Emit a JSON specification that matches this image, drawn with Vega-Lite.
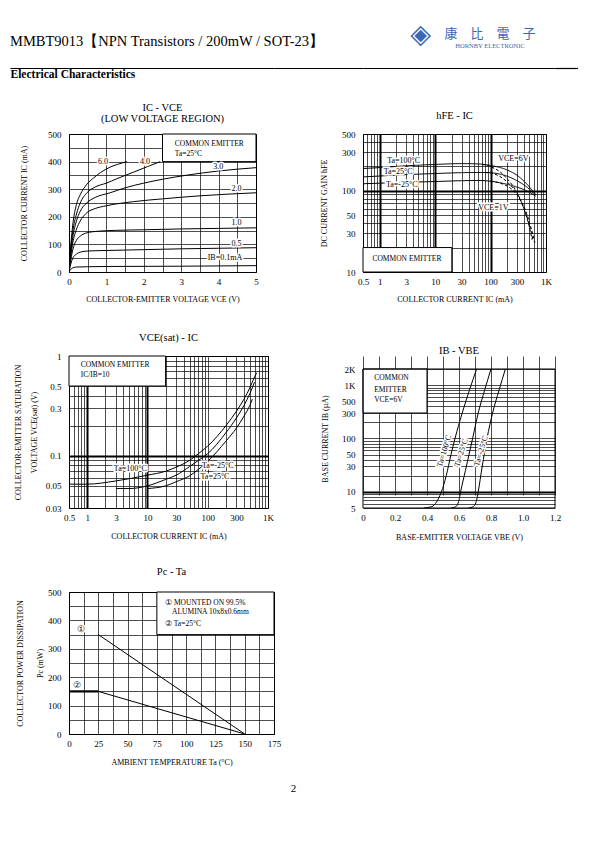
{
  "$schema": "https://vega.github.io/schema/vega-lite/v6.json",
  "background": "white",
  "padding": {"left": 10, "top": 21, "right": 0, "bottom": 0},
  "config": {
    "font": "Liberation Serif",
    "view": {"stroke": null},
    "axis": {"grid": true, "gridColor": "black", "gridOpacity": 1, "gridWidth": 0.7, "domain": false, "ticks": false,
      "labelFont": "Liberation Serif", "labelFontSize": 9, "labelColor": "black", "labelPadding": 5,
      "labelFlush": false, "labelOverlap": false, "labelBound": false,
      "titleFont": "Liberation Serif", "titleFontSize": 8, "titleFontWeight": "normal", "titleColor": "black"},
    "axisY": {"labelPadding": 8},
    "title": {"font": "Liberation Serif", "fontSize": 10.5, "fontWeight": "normal", "color": "black", "frame": "group"},
    "text": {"font": "Liberation Serif", "fontSize": 8, "color": "black"}
  },
  "datasets": {
    "c1_curves": [
      {"ib": "6.0", "vce": 0, "ic": 0}, {"ib": "6.0", "vce": 0.05, "ic": 100}, {"ib": "6.0", "vce": 0.1, "ic": 170}, {"ib": "6.0", "vce": 0.2, "ic": 245}, {"ib": "6.0", "vce": 0.3, "ic": 280}, {"ib": "6.0", "vce": 0.48, "ic": 318}, {"ib": "6.0", "vce": 0.65, "ic": 340}, {"ib": "6.0", "vce": 0.84, "ic": 360}, {"ib": "6.0", "vce": 1.1, "ic": 380}, {"ib": "6.0", "vce": 1.3, "ic": 390}, {"ib": "6.0", "vce": 1.55, "ic": 400},
      {"ib": "4.0", "vce": 0, "ic": 0}, {"ib": "4.0", "vce": 0.05, "ic": 85}, {"ib": "4.0", "vce": 0.1, "ic": 145}, {"ib": "4.0", "vce": 0.2, "ic": 210}, {"ib": "4.0", "vce": 0.3, "ic": 250}, {"ib": "4.0", "vce": 0.48, "ic": 287}, {"ib": "4.0", "vce": 0.7, "ic": 308}, {"ib": "4.0", "vce": 1.0, "ic": 322}, {"ib": "4.0", "vce": 1.28, "ic": 338}, {"ib": "4.0", "vce": 1.73, "ic": 362}, {"ib": "4.0", "vce": 2.1, "ic": 382}, {"ib": "4.0", "vce": 2.44, "ic": 400},
      {"ib": "3.0", "vce": 0, "ic": 0}, {"ib": "3.0", "vce": 0.05, "ic": 70}, {"ib": "3.0", "vce": 0.1, "ic": 125}, {"ib": "3.0", "vce": 0.2, "ic": 185}, {"ib": "3.0", "vce": 0.3, "ic": 220}, {"ib": "3.0", "vce": 0.48, "ic": 251}, {"ib": "3.0", "vce": 0.7, "ic": 270}, {"ib": "3.0", "vce": 1.1, "ic": 287}, {"ib": "3.0", "vce": 1.5, "ic": 305}, {"ib": "3.0", "vce": 2, "ic": 322}, {"ib": "3.0", "vce": 2.5, "ic": 336}, {"ib": "3.0", "vce": 3.16, "ic": 351}, {"ib": "3.0", "vce": 4, "ic": 366}, {"ib": "3.0", "vce": 5, "ic": 378},
      {"ib": "2.0", "vce": 0, "ic": 0}, {"ib": "2.0", "vce": 0.05, "ic": 60}, {"ib": "2.0", "vce": 0.1, "ic": 105}, {"ib": "2.0", "vce": 0.2, "ic": 155}, {"ib": "2.0", "vce": 0.3, "ic": 185}, {"ib": "2.0", "vce": 0.48, "ic": 215}, {"ib": "2.0", "vce": 0.7, "ic": 230}, {"ib": "2.0", "vce": 1, "ic": 240}, {"ib": "2.0", "vce": 1.73, "ic": 255}, {"ib": "2.0", "vce": 2.5, "ic": 265}, {"ib": "2.0", "vce": 3.5, "ic": 276}, {"ib": "2.0", "vce": 5, "ic": 287},
      {"ib": "1.0", "vce": 0, "ic": 0}, {"ib": "1.0", "vce": 0.05, "ic": 45}, {"ib": "1.0", "vce": 0.1, "ic": 80}, {"ib": "1.0", "vce": 0.2, "ic": 115}, {"ib": "1.0", "vce": 0.3, "ic": 130}, {"ib": "1.0", "vce": 0.48, "ic": 142}, {"ib": "1.0", "vce": 0.8, "ic": 148}, {"ib": "1.0", "vce": 1.28, "ic": 151}, {"ib": "1.0", "vce": 2, "ic": 153}, {"ib": "1.0", "vce": 3, "ic": 156}, {"ib": "1.0", "vce": 4, "ic": 158}, {"ib": "1.0", "vce": 5, "ic": 160},
      {"ib": "0.5", "vce": 0, "ic": 0}, {"ib": "0.5", "vce": 0.05, "ic": 30}, {"ib": "0.5", "vce": 0.1, "ic": 50}, {"ib": "0.5", "vce": 0.2, "ic": 65}, {"ib": "0.5", "vce": 0.3, "ic": 72}, {"ib": "0.5", "vce": 0.5, "ic": 76}, {"ib": "0.5", "vce": 1, "ic": 78}, {"ib": "0.5", "vce": 2, "ic": 81}, {"ib": "0.5", "vce": 3, "ic": 84}, {"ib": "0.5", "vce": 4, "ic": 86}, {"ib": "0.5", "vce": 5, "ic": 88},
      {"ib": "0.1", "vce": 0, "ic": 0}, {"ib": "0.1", "vce": 0.05, "ic": 10}, {"ib": "0.1", "vce": 0.1, "ic": 15}, {"ib": "0.1", "vce": 0.2, "ic": 18}, {"ib": "0.1", "vce": 0.5, "ic": 19}, {"ib": "0.1", "vce": 1, "ic": 20}, {"ib": "0.1", "vce": 3, "ic": 21}, {"ib": "0.1", "vce": 5, "ic": 23}
    ],
    "c1_box": [{"vce": 2.5, "vce2": 5, "ic": 400, "ic2": 500}],
    "c1_labels": [
      {"vce": 0.91, "ic": 400, "text": "6.0"}, {"vce": 2.03, "ic": 400, "text": "4.0"}, {"vce": 3.99, "ic": 382, "text": "3.0"},
      {"vce": 4.48, "ic": 300, "text": "2.0"}, {"vce": 4.48, "ic": 177, "text": "1.0"}, {"vce": 4.48, "ic": 100, "text": "0.5"},
      {"vce": 4.17, "ic": 50, "text": "IB=0.1mA"}
    ],
    "c1_boxtext": [{"vce": 2.83, "ic": 464, "text": "COMMON EMITTER"}, {"vce": 2.83, "ic": 428, "text": "Ta=25°C"}],
    "c2_curves": [
      {"c": "100-6V", "vce": "6V", "icm": 0.5, "hfe": 188}, {"c": "100-6V", "vce": "6V", "icm": 1, "hfe": 193}, {"c": "100-6V", "vce": "6V", "icm": 3, "hfe": 203}, {"c": "100-6V", "vce": "6V", "icm": 10, "hfe": 211}, {"c": "100-6V", "vce": "6V", "icm": 30, "hfe": 216}, {"c": "100-6V", "vce": "6V", "icm": 60, "hfe": 214}, {"c": "100-6V", "vce": "6V", "icm": 100, "hfe": 205}, {"c": "100-6V", "vce": "6V", "icm": 200, "hfe": 180}, {"c": "100-6V", "vce": "6V", "icm": 300, "hfe": 155}, {"c": "100-6V", "vce": "6V", "icm": 500, "hfe": 112}, {"c": "100-6V", "vce": "6V", "icm": 650, "hfe": 90},
      {"c": "25-6V", "vce": "6V", "icm": 0.5, "hfe": 148}, {"c": "25-6V", "vce": "6V", "icm": 1, "hfe": 152}, {"c": "25-6V", "vce": "6V", "icm": 3, "hfe": 158}, {"c": "25-6V", "vce": "6V", "icm": 10, "hfe": 163}, {"c": "25-6V", "vce": "6V", "icm": 30, "hfe": 167}, {"c": "25-6V", "vce": "6V", "icm": 80, "hfe": 168}, {"c": "25-6V", "vce": "6V", "icm": 150, "hfe": 160}, {"c": "25-6V", "vce": "6V", "icm": 300, "hfe": 133}, {"c": "25-6V", "vce": "6V", "icm": 500, "hfe": 105}, {"c": "25-6V", "vce": "6V", "icm": 650, "hfe": 88},
      {"c": "-25-6V", "vce": "6V", "icm": 0.5, "hfe": 122}, {"c": "-25-6V", "vce": "6V", "icm": 1, "hfe": 124}, {"c": "-25-6V", "vce": "6V", "icm": 3, "hfe": 127}, {"c": "-25-6V", "vce": "6V", "icm": 10, "hfe": 130}, {"c": "-25-6V", "vce": "6V", "icm": 30, "hfe": 133}, {"c": "-25-6V", "vce": "6V", "icm": 60, "hfe": 134}, {"c": "-25-6V", "vce": "6V", "icm": 100, "hfe": 131}, {"c": "-25-6V", "vce": "6V", "icm": 200, "hfe": 120}, {"c": "-25-6V", "vce": "6V", "icm": 300, "hfe": 111}, {"c": "-25-6V", "vce": "6V", "icm": 500, "hfe": 96}, {"c": "-25-6V", "vce": "6V", "icm": 650, "hfe": 86},
      {"c": "100-1V", "vce": "1V", "icm": 70, "hfe": 212}, {"c": "100-1V", "vce": "1V", "icm": 100, "hfe": 198}, {"c": "100-1V", "vce": "1V", "icm": 150, "hfe": 170}, {"c": "100-1V", "vce": "1V", "icm": 200, "hfe": 140}, {"c": "100-1V", "vce": "1V", "icm": 300, "hfe": 95}, {"c": "100-1V", "vce": "1V", "icm": 400, "hfe": 60}, {"c": "100-1V", "vce": "1V", "icm": 500, "hfe": 36}, {"c": "100-1V", "vce": "1V", "icm": 560, "hfe": 25},
      {"c": "25-1V", "vce": "1V", "icm": 80, "hfe": 168}, {"c": "25-1V", "vce": "1V", "icm": 120, "hfe": 160}, {"c": "25-1V", "vce": "1V", "icm": 200, "hfe": 128}, {"c": "25-1V", "vce": "1V", "icm": 300, "hfe": 92}, {"c": "25-1V", "vce": "1V", "icm": 400, "hfe": 60}, {"c": "25-1V", "vce": "1V", "icm": 500, "hfe": 38}, {"c": "25-1V", "vce": "1V", "icm": 590, "hfe": 24},
      {"c": "-25-1V", "vce": "1V", "icm": 100, "hfe": 131}, {"c": "-25-1V", "vce": "1V", "icm": 150, "hfe": 124}, {"c": "-25-1V", "vce": "1V", "icm": 250, "hfe": 102}, {"c": "-25-1V", "vce": "1V", "icm": 350, "hfe": 76}, {"c": "-25-1V", "vce": "1V", "icm": 450, "hfe": 52}, {"c": "-25-1V", "vce": "1V", "icm": 550, "hfe": 33}, {"c": "-25-1V", "vce": "1V", "icm": 630, "hfe": 23}
    ],
    "c2_box": [{"icm": 0.5, "icm2": 20, "hfe": 10, "hfe2": 20}],
    "c2_labels": [
      {"icm": 2.7, "hfe": 234, "text": "Ta=100°C"}, {"icm": 2.15, "hfe": 168, "text": "Ta=25°C"}, {"icm": 2.5, "hfe": 118, "text": "Ta=-25°C"},
      {"icm": 258, "hfe": 245, "text": "VCE=6V"}, {"icm": 112, "hfe": 62, "text": "VCE=1V"}
    ],
    "c2_boxtext": [{"icm": 3.1, "hfe": 14.5, "text": "COMMON EMITTER"}],
    "c3_curves": [
      {"ta": "100", "icm": 0.5, "vsat": 0.052}, {"ta": "100", "icm": 1, "vsat": 0.052}, {"ta": "100", "icm": 3, "vsat": 0.056}, {"ta": "100", "icm": 10, "vsat": 0.064}, {"ta": "100", "icm": 20, "vsat": 0.07}, {"ta": "100", "icm": 30, "vsat": 0.077}, {"ta": "100", "icm": 50, "vsat": 0.09}, {"ta": "100", "icm": 70, "vsat": 0.105}, {"ta": "100", "icm": 100, "vsat": 0.125}, {"ta": "100", "icm": 200, "vsat": 0.2}, {"ta": "100", "icm": 300, "vsat": 0.28}, {"ta": "100", "icm": 400, "vsat": 0.37}, {"ta": "100", "icm": 500, "vsat": 0.48}, {"ta": "100", "icm": 600, "vsat": 0.62}, {"ta": "100", "icm": 650, "vsat": 0.68},
      {"ta": "-25", "icm": 3, "vsat": 0.047}, {"ta": "-25", "icm": 5, "vsat": 0.047}, {"ta": "-25", "icm": 10, "vsat": 0.05}, {"ta": "-25", "icm": 20, "vsat": 0.058}, {"ta": "-25", "icm": 30, "vsat": 0.064}, {"ta": "-25", "icm": 50, "vsat": 0.078}, {"ta": "-25", "icm": 70, "vsat": 0.09}, {"ta": "-25", "icm": 100, "vsat": 0.105}, {"ta": "-25", "icm": 200, "vsat": 0.17}, {"ta": "-25", "icm": 300, "vsat": 0.24}, {"ta": "-25", "icm": 400, "vsat": 0.32}, {"ta": "-25", "icm": 500, "vsat": 0.42}, {"ta": "-25", "icm": 600, "vsat": 0.55},
      {"ta": "25", "icm": 10, "vsat": 0.047}, {"ta": "25", "icm": 20, "vsat": 0.05}, {"ta": "25", "icm": 30, "vsat": 0.055}, {"ta": "25", "icm": 50, "vsat": 0.063}, {"ta": "25", "icm": 70, "vsat": 0.073}, {"ta": "25", "icm": 100, "vsat": 0.088}, {"ta": "25", "icm": 200, "vsat": 0.14}, {"ta": "25", "icm": 300, "vsat": 0.19}, {"ta": "25", "icm": 400, "vsat": 0.25}, {"ta": "25", "icm": 500, "vsat": 0.32}, {"ta": "25", "icm": 550, "vsat": 0.37}
    ],
    "c3_box": [{"icm": 0.5, "icm2": 20, "vsat": 0.5, "vsat2": 1}],
    "c3_boxtext": [{"icm": 0.78, "vsat": 0.81, "text": "COMMON EMITTER"}, {"icm": 0.78, "vsat": 0.64, "text": "IC/IB=10"}],
    "c3_labels": [{"icm": 5.2, "vsat": 0.0746, "text": "Ta=100°C"}, {"icm": 147, "vsat": 0.079, "text": "Ta=-25°C"}, {"icm": 132, "vsat": 0.061, "text": "Ta=25°C"}],
    "c4_curves": [
      {"ta": "100", "vbe": 0.38, "iba": 5}, {"ta": "100", "vbe": 0.43, "iba": 5.3}, {"ta": "100", "vbe": 0.46, "iba": 6.5}, {"ta": "100", "vbe": 0.48, "iba": 8.5}, {"ta": "100", "vbe": 0.49, "iba": 10}, {"ta": "100", "vbe": 0.52, "iba": 20}, {"ta": "100", "vbe": 0.55, "iba": 50}, {"ta": "100", "vbe": 0.575, "iba": 100}, {"ta": "100", "vbe": 0.62, "iba": 300}, {"ta": "100", "vbe": 0.665, "iba": 800}, {"ta": "100", "vbe": 0.71, "iba": 2000},
      {"ta": "25", "vbe": 0.55, "iba": 5}, {"ta": "25", "vbe": 0.58, "iba": 5.3}, {"ta": "25", "vbe": 0.6, "iba": 7}, {"ta": "25", "vbe": 0.61, "iba": 10}, {"ta": "25", "vbe": 0.64, "iba": 25}, {"ta": "25", "vbe": 0.685, "iba": 100}, {"ta": "25", "vbe": 0.72, "iba": 300}, {"ta": "25", "vbe": 0.76, "iba": 800}, {"ta": "25", "vbe": 0.8, "iba": 2000},
      {"ta": "-25", "vbe": 0.66, "iba": 5}, {"ta": "-25", "vbe": 0.69, "iba": 5.3}, {"ta": "-25", "vbe": 0.71, "iba": 7}, {"ta": "-25", "vbe": 0.72, "iba": 10}, {"ta": "-25", "vbe": 0.745, "iba": 30}, {"ta": "-25", "vbe": 0.775, "iba": 100}, {"ta": "-25", "vbe": 0.81, "iba": 300}, {"ta": "-25", "vbe": 0.85, "iba": 800}, {"ta": "-25", "vbe": 0.89, "iba": 2000}
    ],
    "c4_box": [{"vbe": 0, "vbe2": 0.4, "iba": 300, "iba2": 2000}],
    "c4_frame": [{"vbe": 0, "vbe2": 1.2, "iba": 5, "iba2": 2000}],
    "c4_boxtext": [{"vbe": 0.07, "iba": 1357, "text": "COMMON"}, {"vbe": 0.07, "iba": 820, "text": "EMITTER"}, {"vbe": 0.07, "iba": 532, "text": "VCE=6V"}],
    "c4_labels": [{"vbe": 0.51, "iba": 58, "text": "Ta=100°C"}, {"vbe": 0.616, "iba": 54, "text": "Ta=25°C"}, {"vbe": 0.74, "iba": 58, "text": "Ta=-25°C"}],
    "c5_curves": [
      {"s": "mounted", "tamb": 25, "pc": 350}, {"s": "mounted", "tamb": 150, "pc": 0},
      {"s": "free", "tamb": 25, "pc": 150}, {"s": "free", "tamb": 150, "pc": 0},
      {"s": "flat", "tamb": 0, "pc": 150}, {"s": "flat", "tamb": 25, "pc": 150}
    ],
    "c5_box": [{"tamb": 75, "tamb2": 175, "pc": 350, "pc2": 500}],
    "c5_boxtext": [{"tamb": 82, "pc": 462, "text": "① MOUNTED ON 99.5%"}, {"tamb": 88, "pc": 430, "text": "ALUMINA 10x8x0.6mm"}, {"tamb": 82, "pc": 386, "text": "② Ta=25°C"}],
    "c5_marks": [{"tamb": 10, "pc": 368, "text": "①"}, {"tamb": 7, "pc": 173, "text": "②"}]
  },
  "columns": 5,
  "align": "each",
  "bounds": "flush",
  "spacing": {"row": 84, "column": 0},
  "concat": [
    {
      "width": 59, "height": 1, "data": {"values": []}, "mark": "point",
      "encoding": {"x": {"field": "v", "type": "quantitative", "scale": {"domain": [0, 1]},
        "axis": {"orient": "bottom", "offset": 18, "grid": false, "labels": false, "ticks": false, "domain": true, "domainColor": "black", "domainWidth": 1.2,
          "title": "Electrical Characteristics", "titleAnchor": "start", "titleAlign": "left", "titleFontSize": 11.5, "titleFontWeight": "bold", "titlePadding": 0}}},
      "title": {"text": "MMBT9013【NPN Transistors / 200mW / SOT-23】", "anchor": "start", "fontSize": 14.5, "offset": 0}
    },
    {
      "width": 205, "height": 1, "data": {"values": []}, "mark": "point",
      "encoding": {"x": {"field": "v", "type": "quantitative", "scale": {"domain": [0, 1]},
        "axis": {"orient": "bottom", "offset": 18, "grid": false, "labels": false, "ticks": false, "domain": true, "domainColor": "black", "domainWidth": 1.2, "title": null}}}
    },
    {
      "width": 89, "height": 1, "data": {"values": []}, "mark": "point",
      "encoding": {"x": {"field": "v", "type": "quantitative", "scale": {"domain": [0, 1]},
        "axis": {"orient": "bottom", "offset": 18, "grid": false, "labels": false, "ticks": false, "domain": true, "domainColor": "black", "domainWidth": 1.2, "title": null}}},
      "title": {"text": "◈", "anchor": "end", "dx": 68, "font": "DejaVu Sans", "fontSize": 27, "color": "#3a68b4", "offset": 0}
    },
    {
      "width": 192, "height": 1, "data": {"values": []}, "mark": "point",
      "encoding": {"x": {"field": "v", "type": "quantitative", "scale": {"domain": [0, 1]},
        "axis": {"orient": "bottom", "offset": 18, "grid": false, "labels": false, "ticks": false, "domain": true, "domainColor": "black", "domainWidth": 1.2, "title": null}}},
      "title": {"text": "康　比　電　子", "subtitle": "HORNBY ELECTRONIC", "anchor": "middle", "dx": 31, "font": "Noto Sans CJK TC", "fontSize": 13, "color": "#3a68b4",
        "subtitleFont": "Liberation Serif", "subtitleFontSize": 6.5, "subtitleColor": "#3a68b4", "subtitlePadding": 2, "offset": 0}
    },
    {
      "width": 23, "height": 1, "data": {"values": []}, "mark": "point",
      "encoding": {"x": {"field": "v", "type": "quantitative", "scale": {"domain": [0, 1]},
        "axis": {"orient": "bottom", "offset": 18, "grid": false, "labels": false, "ticks": false, "domain": true, "domainColor": "black", "domainWidth": 1.2, "title": null}}}
    },

    {"width": 1, "height": 1, "data": {"values": []}, "mark": "point"},
    {
      "width": 187, "height": 138,
      "view": {"stroke": "black", "strokeWidth": 1},
      "title": {"text": ["IC  -  VCE", "(LOW VOLTAGE REGION)"], "offset": 6, "lineHeight": 11},
      "encoding": {
        "x": {"field": "vce", "type": "quantitative", "scale": {"domain": [0, 5], "nice": false, "zero": false},
          "axis": {"values": [0, 0.5, 1, 1.5, 2, 2.5, 3, 3.5, 4, 4.5, 5], "labelExpr": "datum.value % 1 == 0 ? '' + datum.value : ''",
            "title": "COLLECTOR-EMITTER VOLTAGE VCE (V)", "titlePadding": 9}},
        "y": {"field": "ic", "type": "quantitative", "scale": {"domain": [0, 500], "nice": false},
          "axis": {"values": [0, 50, 100, 150, 200, 250, 300, 350, 400, 450, 500], "labelExpr": "datum.value % 100 == 0 ? '' + datum.value : ''",
            "title": "COLLECTOR CURRENT IC (mA)", "titlePadding": 19}}
      },
      "layer": [
        {"data": {"name": "c1_box"}, "mark": {"type": "rect", "fill": "white", "stroke": "black", "strokeWidth": 1}, "encoding": {"x2": {"field": "vce2"}, "y2": {"field": "ic2"}}},
        {"data": {"name": "c1_curves"}, "mark": {"type": "line", "interpolate": "monotone", "color": "black", "strokeWidth": 1, "clip": true}, "encoding": {"detail": {"field": "ib"}}},
        {"data": {"name": "c1_labels"}, "mark": {"type": "text", "fill": "white", "stroke": "white", "strokeWidth": 3}, "encoding": {"text": {"field": "text"}}},
        {"data": {"name": "c1_labels"}, "mark": {"type": "text", "fill": "black"}, "encoding": {"text": {"field": "text"}}},
        {"data": {"name": "c1_boxtext"}, "mark": {"type": "text", "align": "left", "fontSize": 7.5, "fill": "black"}, "encoding": {"text": {"field": "text"}}}
      ]
    },
    {"width": 1, "height": 1, "data": {"values": []}, "mark": "point"},
    {
      "width": 183, "height": 138,
      "view": {"stroke": "black", "strokeWidth": 1},
      "title": {"text": "hFE  -  IC", "offset": 9},
      "encoding": {
        "x": {"field": "icm", "type": "quantitative", "scale": {"type": "log", "domain": [0.5, 1000], "nice": false},
          "axis": {"values": [0.5, 0.6, 0.7, 0.8, 0.9, 1, 2, 3, 4, 5, 6, 7, 8, 9, 10, 20, 30, 40, 50, 60, 70, 80, 90, 100, 200, 300, 400, 500, 600, 700, 800, 900, 1000],
            "labelExpr": "datum.value == 1000 ? '1K' : (indexof([0.5, 1, 3, 10, 30, 100, 300], datum.value) >= 0 ? '' + datum.value : '')",
            "gridWidth": {"condition": {"test": "datum.value == 1 || datum.value == 10 || datum.value == 100", "value": 2}, "value": 0.7},
            "title": "COLLECTOR CURRENT IC (mA)", "titlePadding": 9}},
        "y": {"field": "hfe", "type": "quantitative", "scale": {"type": "log", "domain": [10, 500], "nice": false},
          "axis": {"values": [10, 20, 30, 40, 50, 60, 70, 80, 90, 100, 200, 300, 400, 500],
            "labelExpr": "indexof([10, 30, 50, 100, 300, 500], datum.value) >= 0 ? '' + datum.value : ''",
            "gridWidth": {"condition": {"test": "datum.value == 100", "value": 2}, "value": 0.7},
            "title": "DC CURRENT GAIN hFE", "titlePadding": 13}}
      },
      "layer": [
        {"data": {"name": "c2_box"}, "mark": {"type": "rect", "fill": "white", "stroke": "black", "strokeWidth": 1}, "encoding": {"x2": {"field": "icm2"}, "y2": {"field": "hfe2"}}},
        {"data": {"name": "c2_curves"}, "mark": {"type": "line", "interpolate": "monotone", "color": "black", "strokeWidth": 1, "clip": true},
          "encoding": {"detail": {"field": "c"}, "strokeDash": {"field": "vce", "type": "nominal", "scale": {"domain": ["6V", "1V"], "range": [[1, 0], [3, 2]]}, "legend": null}}},
        {"data": {"name": "c2_labels"}, "mark": {"type": "text", "fill": "white", "stroke": "white", "strokeWidth": 3}, "encoding": {"text": {"field": "text"}}},
        {"data": {"name": "c2_labels"}, "mark": {"type": "text", "fill": "black"}, "encoding": {"text": {"field": "text"}}},
        {"data": {"name": "c2_boxtext"}, "mark": {"type": "text", "fontSize": 7.5, "fill": "black"}, "encoding": {"text": {"field": "text"}}}
      ]
    },
    {"width": 1, "height": 1, "data": {"values": []}, "mark": "point"},

    {"width": 1, "height": 1, "data": {"values": []}, "mark": "point"},
    {
      "width": 199, "height": 152,
      "view": {"stroke": "black", "strokeWidth": 1},
      "title": {"text": "VCE(sat)  -  IC", "offset": 9},
      "encoding": {
        "x": {"field": "icm", "type": "quantitative", "scale": {"type": "log", "domain": [0.5, 1000], "nice": false},
          "axis": {"values": [0.5, 0.6, 0.7, 0.8, 0.9, 1, 2, 3, 4, 5, 6, 7, 8, 9, 10, 20, 30, 40, 50, 60, 70, 80, 90, 100, 200, 300, 400, 500, 600, 700, 800, 900, 1000],
            "labelExpr": "datum.value == 1000 ? '1K' : (indexof([0.5, 1, 3, 10, 30, 100, 300], datum.value) >= 0 ? '' + datum.value : '')",
            "gridWidth": {"condition": {"test": "datum.value == 1 || datum.value == 10", "value": 2}, "value": 0.7},
            "title": "COLLECTOR CURRENT IC (mA)", "titlePadding": 10}},
        "y": {"field": "vsat", "type": "quantitative", "scale": {"type": "log", "domain": [0.03, 1], "nice": false},
          "axis": {"values": [0.03, 0.04, 0.05, 0.06, 0.07, 0.08, 0.09, 0.1, 0.2, 0.3, 0.4, 0.5, 0.6, 0.7, 0.8, 0.9, 1],
            "labelExpr": "indexof([0.03, 0.05, 0.1, 0.3, 0.5, 1], datum.value) >= 0 ? '' + datum.value : ''",
            "gridWidth": {"condition": {"test": "datum.value == 0.1", "value": 2}, "value": 0.7},
            "title": ["COLLECTOR-EMITTER SATURATION", "VOLTAGE VCE(sat)  (V)"], "titleLineHeight": 16, "titlePadding": 7}}
      },
      "layer": [
        {"data": {"name": "c3_box"}, "mark": {"type": "rect", "fill": "white", "stroke": "black", "strokeWidth": 1}, "encoding": {"x2": {"field": "icm2"}, "y2": {"field": "vsat2"}}},
        {"data": {"name": "c3_curves"}, "mark": {"type": "line", "interpolate": "monotone", "color": "black", "strokeWidth": 1, "clip": true}, "encoding": {"detail": {"field": "ta"}}},
        {"data": {"name": "c3_labels"}, "mark": {"type": "text", "fill": "white", "stroke": "white", "strokeWidth": 3}, "encoding": {"text": {"field": "text"}}},
        {"data": {"name": "c3_labels"}, "mark": {"type": "text", "fill": "black"}, "encoding": {"text": {"field": "text"}}},
        {"data": {"name": "c3_boxtext"}, "mark": {"type": "text", "align": "left", "fontSize": 7.5, "fill": "black"}, "encoding": {"text": {"field": "text"}}}
      ]
    },
    {"width": 1, "height": 1, "data": {"values": []}, "mark": "point"},
    {
      "width": 192, "height": 152,
      "title": {"text": "IB  -  VBE", "offset": 0},
      "encoding": {
        "x": {"field": "vbe", "type": "quantitative", "scale": {"domain": [0, 1.2], "nice": false, "zero": false},
          "axis": {"values": [0, 0.1, 0.2, 0.3, 0.4, 0.5, 0.6, 0.7, 0.8, 0.9, 1, 1.1, 1.2],
            "labelExpr": "indexof([0.2, 0.4, 0.6, 0.8, 1, 1.2], datum.value) >= 0 ? format(datum.value, '.1f') : (datum.value == 0 ? '0' : '')",
            "title": "BASE-EMITTER VOLTAGE VBE  (V)", "titlePadding": 11}},
        "y": {"field": "iba", "type": "quantitative", "scale": {"type": "log", "domain": [5, 2000], "nice": false, "range": [152, 13]},
          "axis": {"values": [5, 6, 7, 8, 9, 10, 20, 30, 40, 50, 60, 70, 80, 90, 100, 200, 300, 400, 500, 600, 700, 800, 900, 1000, 2000],
            "labelExpr": "datum.value == 2000 ? '2K' : (datum.value == 1000 ? '1K' : (indexof([5, 10, 30, 50, 100, 300, 500], datum.value) >= 0 ? '' + datum.value : ''))",
            "gridWidth": {"condition": {"test": "datum.value == 10", "value": 2.2}, "value": 0.7},
            "title": "BASE CURRENT IB  (µA)", "titlePadding": 12}}
      },
      "layer": [
        {"data": {"name": "c4_box"}, "mark": {"type": "rect", "fill": "white", "stroke": "black", "strokeWidth": 1}, "encoding": {"x2": {"field": "vbe2"}, "y2": {"field": "iba2"}}},
        {"data": {"name": "c4_frame"}, "mark": {"type": "rect", "filled": false, "stroke": "black", "strokeWidth": 1}, "encoding": {"x2": {"field": "vbe2"}, "y2": {"field": "iba2"}}},
        {"data": {"name": "c4_curves"}, "mark": {"type": "line", "interpolate": "monotone", "color": "black", "strokeWidth": 1, "clip": true}, "encoding": {"detail": {"field": "ta"}}},
        {"data": {"name": "c4_labels"}, "mark": {"type": "text", "angle": 287, "fill": "white", "stroke": "white", "strokeWidth": 3}, "encoding": {"text": {"field": "text"}}},
        {"data": {"name": "c4_labels"}, "mark": {"type": "text", "angle": 287, "fill": "black"}, "encoding": {"text": {"field": "text"}}},
        {"data": {"name": "c4_boxtext"}, "mark": {"type": "text", "align": "left", "fontSize": 7.5, "fill": "black"}, "encoding": {"text": {"field": "text"}}}
      ]
    },
    {"width": 1, "height": 1, "data": {"values": []}, "mark": "point"},

    {"width": 1, "height": 1, "data": {"values": []}, "mark": "point"},
    {
      "width": 205, "height": 142,
      "view": {"stroke": "black", "strokeWidth": 1},
      "title": {"text": "Pc  -  Ta", "offset": 11},
      "encoding": {
        "x": {"field": "tamb", "type": "quantitative", "scale": {"domain": [0, 175], "nice": false},
          "axis": {"values": [0, 12.5, 25, 37.5, 50, 62.5, 75, 87.5, 100, 112.5, 125, 137.5, 150, 162.5, 175],
            "labelExpr": "datum.value % 25 == 0 ? '' + datum.value : ''",
            "title": "AMBIENT TEMPERATURE Ta  (°C)", "titlePadding": 10}},
        "y": {"field": "pc", "type": "quantitative", "scale": {"domain": [0, 500], "nice": false},
          "axis": {"values": [0, 50, 100, 150, 200, 250, 300, 350, 400, 450, 500],
            "labelExpr": "datum.value % 100 == 0 ? '' + datum.value : ''",
            "title": ["COLLECTOR POWER DISSIPATION", "Pc  (mW)"], "titleLineHeight": 20, "titlePadding": 3}}
      },
      "layer": [
        {"data": {"name": "c5_box"}, "mark": {"type": "rect", "fill": "white", "stroke": "black", "strokeWidth": 1}, "encoding": {"x2": {"field": "tamb2"}, "y2": {"field": "pc2"}}},
        {"data": {"name": "c5_curves"}, "transform": [{"filter": "datum.s != 'flat'"}], "mark": {"type": "line", "color": "black", "strokeWidth": 1}, "encoding": {"detail": {"field": "s"}}},
        {"data": {"name": "c5_curves"}, "transform": [{"filter": "datum.s == 'flat'"}], "mark": {"type": "line", "color": "black", "strokeWidth": 2.2}, "encoding": {"detail": {"field": "s"}}},
        {"data": {"name": "c5_boxtext"}, "mark": {"type": "text", "align": "left", "fontSize": 7.5, "fill": "black"}, "encoding": {"text": {"field": "text"}}},
        {"data": {"name": "c5_marks"}, "mark": {"type": "text", "fill": "white", "stroke": "white", "strokeWidth": 3, "fontSize": 9}, "encoding": {"text": {"field": "text"}}},
        {"data": {"name": "c5_marks"}, "mark": {"type": "text", "fontSize": 9, "fill": "black"}, "encoding": {"text": {"field": "text"}}}
      ]
    },
    {"width": 1, "height": 1, "data": {"values": []}, "mark": "point"},
    {"width": 1, "height": 1, "data": {"values": []}, "mark": "point"},
    {"width": 1, "height": 1, "data": {"values": []}, "mark": "point"},

    {"width": 1, "height": 1, "data": {"values": []}, "mark": "point"},
    {"width": 1, "height": 1, "data": {"values": []}, "mark": "point"},
    {"width": 89, "height": 1, "data": {"values": []}, "mark": "point",
      "title": {"text": "2", "anchor": "middle", "dx": -25, "fontSize": 11, "offset": 24}}
  ]
}
